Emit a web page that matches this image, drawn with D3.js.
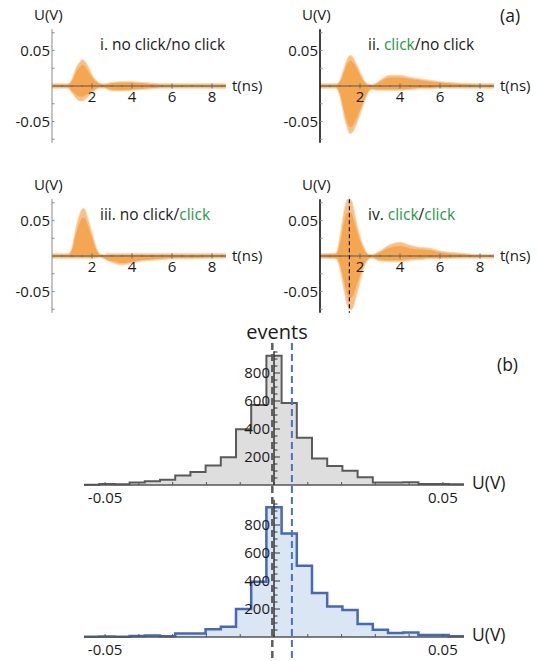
<!DOCTYPE html>
<html>
<head>
<meta charset="utf-8">
<script src="https://cdn.jsdelivr.net/npm/d3@7"></script>
<style>
  html, body { margin: 0; padding: 0; background: #fff; }
  svg { display: block; font-family: "Open Sans", "Noto Sans", sans-serif; }
</style>
</head>
<body>
<svg id="chart" width="538" height="661"></svg>
<script>
// ---------------- DATA ----------------
// (a) waveform envelopes, time grid in ns
const tGrid = [0, 0.8, 1.0, 1.2, 1.4, 1.5, 1.6, 1.8, 2.0, 2.2, 2.4, 2.6, 2.8, 3.0, 3.5, 4.0, 4.5, 5.0, 5.5, 6.0, 7.0, 8.0, 8.7];

// i. no click / no click
const p1Upper     = [0.003, 0.003, 0.010, 0.025, 0.034, 0.037, 0.036, 0.028, 0.016, 0.008, 0.004, 0.003, 0.004, 0.005, 0.006, 0.006, 0.005, 0.004, 0.003, 0.003, 0.003, 0.003, 0.003];
const p1Lower     = [-0.003, -0.003, -0.010, -0.017, -0.021, -0.021, -0.020, -0.015, -0.009, -0.005, -0.003, -0.003, -0.005, -0.007, -0.007, -0.006, -0.005, -0.004, -0.003, -0.003, -0.003, -0.003, -0.003];
const p1CoreUpper = [0.002, 0.002, 0.007, 0.019, 0.027, 0.030, 0.029, 0.021, 0.012, 0.006, 0.003, 0.002, 0.003, 0.004, 0.005, 0.005, 0.004, 0.003, 0.002, 0.002, 0.002, 0.002, 0.002];
const p1CoreLower = [-0.002, -0.002, -0.007, -0.012, -0.015, -0.015, -0.014, -0.011, -0.007, -0.004, -0.002, -0.002, -0.004, -0.005, -0.006, -0.005, -0.004, -0.003, -0.002, -0.002, -0.002, -0.002, -0.002];

// ii. click / no click
const p2Upper     = [0.003, 0.003, 0.008, 0.025, 0.040, 0.043, 0.042, 0.032, 0.020, 0.008, 0.003, 0.002, 0.004, 0.008, 0.015, 0.015, 0.012, 0.010, 0.008, 0.006, 0.004, 0.003, 0.003];
const p2Lower     = [-0.003, -0.003, -0.015, -0.042, -0.062, -0.067, -0.066, -0.055, -0.040, -0.024, -0.010, -0.005, -0.006, -0.006, -0.006, -0.006, -0.005, -0.004, -0.004, -0.003, -0.003, -0.003, -0.003];
const p2CoreUpper = [0.002, 0.002, 0.006, 0.020, 0.033, 0.036, 0.035, 0.027, 0.016, 0.006, 0.002, 0.002, 0.003, 0.006, 0.012, 0.012, 0.010, 0.008, 0.006, 0.005, 0.003, 0.002, 0.002];
const p2CoreLower = [-0.002, -0.002, -0.011, -0.035, -0.054, -0.058, -0.057, -0.047, -0.034, -0.020, -0.008, -0.004, -0.005, -0.005, -0.005, -0.005, -0.004, -0.003, -0.003, -0.002, -0.002, -0.002, -0.002];

// iii. no click / click
const p3Upper     = [0.003, 0.003, 0.012, 0.040, 0.060, 0.066, 0.067, 0.052, 0.033, 0.013, 0.003, 0.002, 0.003, 0.003, 0.003, 0.003, 0.003, 0.003, 0.003, 0.003, 0.003, 0.003, 0.003];
const p3Lower     = [-0.003, -0.003, -0.003, -0.003, -0.003, -0.003, -0.003, -0.003, -0.003, -0.003, -0.002, -0.004, -0.007, -0.009, -0.0125, -0.010, -0.007, -0.006, -0.005, -0.004, -0.004, -0.003, -0.003];
const p3CoreUpper = [0.002, 0.002, 0.009, 0.031, 0.048, 0.053, 0.054, 0.043, 0.026, 0.010, 0.002, 0.001, 0.002, 0.002, 0.002, 0.002, 0.002, 0.002, 0.002, 0.002, 0.002, 0.002, 0.002];
const p3CoreLower = [-0.002, -0.002, -0.002, -0.002, -0.002, -0.002, -0.002, -0.002, -0.002, -0.002, -0.001, -0.003, -0.006, -0.007, -0.010, -0.008, -0.006, -0.005, -0.004, -0.003, -0.003, -0.002, -0.002];

// iv. click / click
const p4Upper     = [0.003, 0.004, 0.028, 0.063, 0.080, 0.080, 0.076, 0.050, 0.028, 0.012, 0.003, 0.002, 0.004, 0.007, 0.016, 0.019, 0.015, 0.012, 0.011, 0.007, 0.004, 0.002, 0.002];
const p4Lower     = [-0.003, -0.004, -0.018, -0.048, -0.072, -0.076, -0.075, -0.058, -0.036, -0.016, -0.006, -0.003, -0.005, -0.007, -0.008, -0.008, -0.006, -0.005, -0.004, -0.004, -0.003, -0.003, -0.003];
const p4CoreUpper = [0.002, 0.003, 0.018, 0.048, 0.062, 0.062, 0.058, 0.040, 0.022, 0.009, 0.002, 0.001, 0.003, 0.005, 0.012, 0.014, 0.011, 0.009, 0.008, 0.005, 0.003, 0.002, 0.002];
const p4CoreLower = [-0.002, -0.003, -0.012, -0.036, -0.056, -0.059, -0.058, -0.044, -0.027, -0.012, -0.004, -0.002, -0.004, -0.005, -0.006, -0.006, -0.004, -0.004, -0.003, -0.003, -0.002, -0.002, -0.002];

const xTickValues = [2, 4, 6, 8];
const yTickValues = [0.05, -0.05];
const dashedTimeIV = 1.47;

// (b) histograms
const binStart = -0.05625;
const binWidth = 0.0045;
const countsTop    = [2, 7, 5, 17, 26, 38, 67, 93, 140, 198, 398, 571, 924, 585, 338, 190, 136, 102, 55, 17, 17, 19, 7, 7, 5];
const countsBottom = [1, 3, 2, 8, 10, 6, 25, 25, 55, 74, 200, 395, 926, 740, 509, 314, 217, 193, 93, 52, 29, 33, 14, 14, 5];
const histYTicks = [200, 400, 600, 800];
const histXLabels = [-0.05, 0.05];
const markerValues = [-0.0005, 0.0053];

// ---------------- DRAW ----------------
const svg = d3.select("#chart");
const orangeLight = "#f8c088";
const orangeCore = "#f5a650";
const orangeEdge = "#fad4ab";
const green = "#1f9a45";

function drawPanel(x0, y0, up, lo, upC, loC, axisDark, labelParts, dashT) {
  const g = svg.append("g");
  const x = d3.scaleLinear().domain([0, 8.7]).range([x0, x0 + 174]);
  const y = d3.scaleLinear().domain([-0.08, 0.08]).range([y0 + 56.8, y0 - 56.8]);
  const rows = tGrid.map((t, i) => ({t, u: up[i], l: lo[i], cu: upC[i], cl: loC[i]}));

  const outer = d3.area().x(d => x(d.t)).y0(d => y(d.l)).y1(d => y(d.u)).curve(d3.curveMonotoneX);
  const core = d3.area().x(d => x(d.t)).y0(d => y(d.cl)).y1(d => y(d.cu)).curve(d3.curveMonotoneX);
  g.append("path").attr("d", outer(rows)).attr("fill", orangeLight);
  g.append("path").attr("d", core(rows)).attr("fill", orangeCore);
  const upLine = d3.line().x(d => x(d.t)).y(d => y(d.u)).curve(d3.curveMonotoneX);
  const loLine = d3.line().x(d => x(d.t)).y(d => y(d.l)).curve(d3.curveMonotoneX);
  [upLine, loLine].forEach(l => g.append("path").attr("d", l(rows)).attr("fill", "none")
      .attr("stroke", orangeEdge).attr("stroke-width", 1));

  // x axis
  g.append("line").attr("x1", x(0)).attr("x2", x(8.7)).attr("y1", y(0)).attr("y2", y(0))
    .attr("stroke", "#555").attr("stroke-width", 1);
  d3.range(0.5, 8.7, 0.5).forEach(v => {
    const major = xTickValues.includes(v);
    g.append("line").attr("x1", x(v)).attr("x2", x(v)).attr("y1", y(0) - (major ? 2.5 : 1)).attr("y2", y(0) + (major ? 2.5 : 1))
      .attr("stroke", "#666").attr("stroke-width", 1);
  });
  xTickValues.forEach(v => {
    g.append("text").attr("x", x(v)).attr("y", y0 + 16).attr("text-anchor", "middle")
      .attr("font-size", 15).attr("fill", "#1a1a1a").text(v);
  });
  g.append("text").attr("x", x0 + 180).attr("y", y0 + 4.5).attr("font-size", 15).attr("fill", "#1a1a1a").text("t(ns)");

  // y axis
  g.append("line").attr("x1", x(0)).attr("x2", x(0)).attr("y1", y(0.08)).attr("y2", y(-0.08))
    .attr("stroke", axisDark ? "#111" : "#8a8a8a").attr("stroke-width", axisDark ? 1.6 : 1);
  [-0.075, -0.05, -0.025, 0.025, 0.05, 0.075].forEach(v => {
    g.append("line").attr("x1", x(0)).attr("x2", x(0) + 2.5).attr("y1", y(v)).attr("y2", y(v))
      .attr("stroke", "#8a8a8a").attr("stroke-width", 1);
  });
  yTickValues.forEach(v => {
    g.append("text").attr("x", x0 - 2).attr("y", y(v) + 5).attr("text-anchor", "end")
      .attr("font-size", 15).attr("fill", "#1a1a1a").text(v > 0 ? "0.05" : "-0.05");
  });
  g.append("text").attr("x", x0 - 18).attr("y", y0 - 66).attr("font-size", 15).attr("fill", "#1a1a1a").text("U(V)");

  if (dashT !== null) {
    g.append("line").attr("x1", x(dashT)).attr("x2", x(dashT)).attr("y1", y(0.08)).attr("y2", y(-0.08))
      .attr("stroke", "#111").attr("stroke-width", 1.2).attr("stroke-dasharray", "4,3");
  }

  const txt = g.append("text").attr("x", x0 + 48).attr("y", y0 - 36).attr("font-size", 15.5).attr("fill", "#1a1a1a");
  labelParts.forEach(p => txt.append("tspan").attr("fill", p[1] ? green : "#1a1a1a").text(p[0]));
}

drawPanel(52, 86, p1Upper, p1Lower, p1CoreUpper, p1CoreLower, false,
  [["i. no click/no click", false]], null);
drawPanel(320, 86, p2Upper, p2Lower, p2CoreUpper, p2CoreLower, true,
  [["ii. ", false], ["click", true], ["/no click", false]], null);
drawPanel(52, 256, p3Upper, p3Lower, p3CoreUpper, p3CoreLower, false,
  [["iii. no click/", false], ["click", true]], null);
drawPanel(320, 256, p4Upper, p4Lower, p4CoreUpper, p4CoreLower, true,
  [["iv. ", false], ["click", true], ["/", false], ["click", true]], dashedTimeIV);

svg.append("text").attr("x", 500).attr("y", 22).attr("font-size", 17.5).attr("fill", "#1a1a1a").text("(a)");

// ---------------- histograms ----------------
const hx = d3.scaleLinear().domain([binStart, binStart + binWidth * countsTop.length]).range([84, 464]);

function drawHist(baseY, counts, fill, stroke, strokeW, axisTop) {
  const g = svg.append("g");
  const hy = d3.scaleLinear().domain([0, 1000]).range([baseY, baseY - 140]);
  const pts = counts.map((c, i) => [binStart + i * binWidth, c]);
  pts.push([binStart + counts.length * binWidth, counts[counts.length - 1]]);
  const area = d3.area().x(d => hx(d[0])).y0(hy(0)).y1(d => hy(d[1])).curve(d3.curveStepAfter);
  const line = d3.line().x(d => hx(d[0])).y(d => hy(d[1])).curve(d3.curveStepAfter);
  g.append("path").attr("d", area(pts)).attr("fill", fill);
  g.append("path").attr("d", line(pts)).attr("fill", "none").attr("stroke", stroke).attr("stroke-width", strokeW);

  // x axis
  g.append("line").attr("x1", hx.range()[0]).attr("x2", hx.range()[1]).attr("y1", baseY).attr("y2", baseY)
    .attr("stroke", "#555").attr("stroke-width", 1.5);
  d3.range(-0.05, 0.0501, 0.01).forEach(v => {
    g.append("line").attr("x1", hx(v)).attr("x2", hx(v)).attr("y1", baseY).attr("y2", baseY - 3)
      .attr("stroke", "#555").attr("stroke-width", 1);
  });
  histXLabels.forEach(v => {
    g.append("text").attr("x", hx(v)).attr("y", baseY + 18).attr("text-anchor", "middle")
      .attr("font-size", 15).attr("fill", "#1a1a1a").text(v > 0 ? "0.05" : "-0.05");
  });
  g.append("text").attr("x", 472).attr("y", baseY + 4).attr("font-size", 17.5).attr("fill", "#1a1a1a").text("U(V)");

  // y axis
  const ax = hx(0);
  g.append("line").attr("x1", ax).attr("x2", ax).attr("y1", baseY).attr("y2", hy(axisTop))
    .attr("stroke", "#333").attr("stroke-width", 1.5);
  d3.range(50, axisTop, 50).forEach(v => {
    const major = v % 200 === 0;
    g.append("line").attr("x1", ax).attr("x2", ax + (major ? 6 : 3.5)).attr("y1", hy(v)).attr("y2", hy(v))
      .attr("stroke", "#333").attr("stroke-width", 1);
  });
  histYTicks.forEach(v => {
    g.append("text").attr("x", ax - 4).attr("y", hy(v) + 5).attr("text-anchor", "end")
      .attr("font-size", 15).attr("fill", "#1a1a1a").text(v);
  });
}

drawHist(485, countsTop, "#dedede", "#5a5a5a", 2, 955);
drawHist(637, countsBottom, "#dae6f4", "#4668b8", 2.5, 980);

// dashed marker lines across both histograms
svg.append("line").attr("x1", hx(markerValues[0])).attr("x2", hx(markerValues[0])).attr("y1", 343).attr("y2", 661)
  .attr("stroke", "#5e5e5e").attr("stroke-width", 2.5).attr("stroke-dasharray", "7,4");
svg.append("line").attr("x1", hx(markerValues[1])).attr("x2", hx(markerValues[1])).attr("y1", 343).attr("y2", 661)
  .attr("stroke", "#4a72c4").attr("stroke-width", 2).attr("stroke-dasharray", "7,4");

svg.append("text").attr("x", 277).attr("y", 339).attr("text-anchor", "middle").attr("font-size", 20).attr("fill", "#1a1a1a").text("events");
svg.append("text").attr("x", 497).attr("y", 371).attr("font-size", 17.5).attr("fill", "#1a1a1a").text("(b)");
</script>
</body>
</html>
